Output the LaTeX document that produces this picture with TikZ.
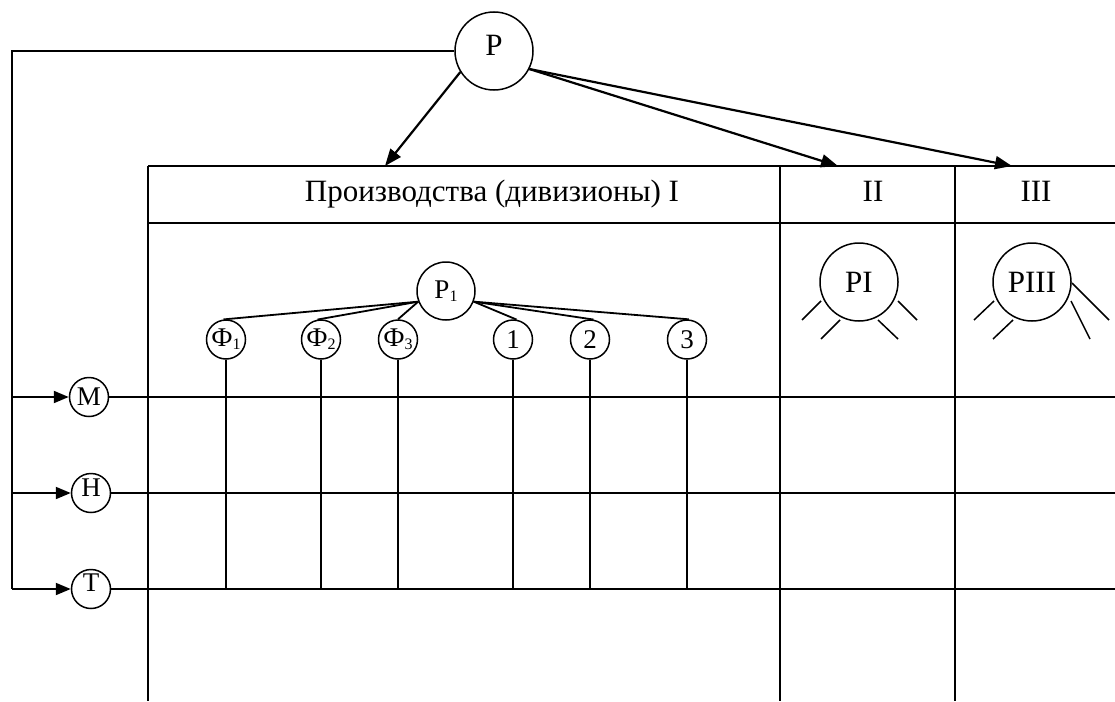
\documentclass[tikz,border=0pt]{standalone}
\usepackage{fontspec}
\setmainfont{Liberation Serif}
\usetikzlibrary{arrows.meta}
\newcommand{\mysub}[1]{{\fontsize{16}{16}\selectfont\raisebox{-3pt}{#1}}}
\begin{document}
\begin{tikzpicture}[x=1pt,y=-1pt,line width=1.8pt,
  bigc/.style={circle,draw,line width=1.5pt,inner sep=0pt,minimum size=78pt,font=\fontsize{31}{36}\selectfont},
  smallc/.style={circle,draw,line width=1.5pt,inner sep=0pt,minimum size=39pt,font=\fontsize{27}{31}\selectfont},
  midc/.style={smallc,minimum size=58pt},
  hdr/.style={font=\fontsize{31}{36}\selectfont,inner sep=0pt,anchor=base},
  arr/.style={-{Triangle[length=17pt,width=13pt]},line width=2.2pt},
  sarr/.style={-{Triangle[length=15pt,width=12pt]},line width=2pt},
  stub/.style={line width=1.5pt}]
\useasboundingbox (0,0) rectangle (1115,701);

% main nodes
\node[bigc] (P) at (494,51) {\raisebox{12pt}{Р}};
\node[bigc] (PI) at (859,282) {РI};
\node[bigc] (PIII) at (1032,282) {РIII};
\node[midc] (P1) at (446,291) {Р\mysub{1}};
\node[smallc] (F1) at (226,339.5) {Ф\mysub{1}};
\node[smallc] (F2) at (321,339.5) {Ф\mysub{2}};
\node[smallc] (F3) at (398,339.5) {Ф\mysub{3}};
\node[smallc] (N1) at (513,339.5) {1};
\node[smallc] (N2) at (590,339.5) {2};
\node[smallc] (N3) at (687,339.5) {3};
\node[smallc] (M) at (89,397) {М};
\node[smallc] (H) at (91,493) {\raisebox{10pt}{Н}};
\node[smallc] (T) at (91,589) {\raisebox{12pt}{Т}};

% headers
\node[hdr] (hI) at (492,201) {Производства (дивизионы) I};
\node[hdr] (hII) at (873,201) {II};
\node[hdr] (hIII) at (1036,201) {III};

% coordinates
\coordinate (tI) at (385,166);
\coordinate (tII) at (838,166);
\coordinate (tIII) at (1012,166);
\coordinate (c0) at (12,51);
\coordinate (cM) at (12,397);
\coordinate (cH) at (12,493);
\coordinate (cT) at (12,589);
\coordinate (eM) at (1115,397);
\coordinate (eH) at (1115,493);
\coordinate (eT) at (1115,589);

% table frame
\draw (148,166) -- (1115,166);
\draw (148,223) -- (1115,223);
\draw (148,166) -- (148,701);
\draw (780,166) -- (780,701);
\draw (955,166) -- (955,701);

% feedback line and rows
\draw (P.west) -- (c0) -- (cT);
\draw[sarr] (cM) -- (M);
\draw[sarr] (cH) -- (H);
\draw[sarr] (cT) -- (T);
\draw (M) -- (eM);
\draw (H) -- (eH);
\draw (T) -- (eT);

% arrows from P
\draw[arr] (P.-148) -- (tI);
\draw[arr] (P.-27) -- (tII);
\draw[arr] (P.-27) -- (tIII);

% tree under P1
\draw (P1.-159) -- (F1.97);
\draw (P1.-159) -- (F2.100);
\draw (P1.-159) -- (F3.north);
\draw (P1.-21) -- (N1.80);
\draw (P1.-21) -- (N2.80);
\draw (P1.-21) -- (N3.85);
\foreach \n in {F1,F2,F3,N1,N2,N3} \draw (\n.south) -- (\n |- cT);

% stubs of PI and PIII
\draw[stub] (802,320) -- (821,301);
\draw[stub] (821,339) -- (840,320);
\draw[stub] (898,301) -- (917,320);
\draw[stub] (878,320) -- (898,339);
\draw[stub] (974,320) -- (994,301);
\draw[stub] (993,339) -- (1013,320);
\draw[stub] (1072,283) -- (1109,320);
\draw[stub] (1071,301) -- (1090,339);
\end{tikzpicture}
\end{document}
